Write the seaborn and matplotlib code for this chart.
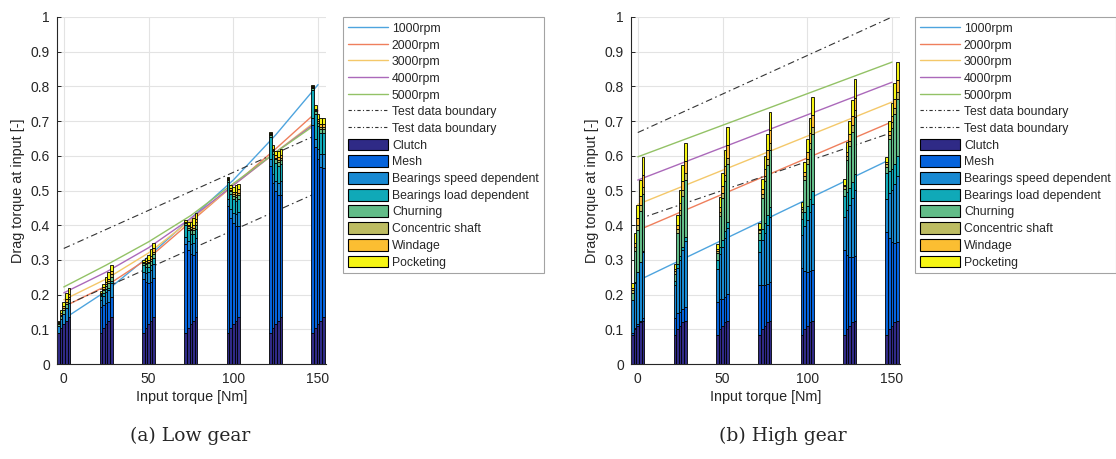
import numpy as np
import pandas as pd
import matplotlib
matplotlib.use("Agg")
import matplotlib.pyplot as plt
from matplotlib.lines import Line2D
from matplotlib.patches import Patch
import seaborn as sns

# ---------------- data ----------------
torques = [0, 25, 50, 75, 100, 125, 150]
rpms = ["1000rpm", "2000rpm", "3000rpm", "4000rpm", "5000rpm"]
components = ["Clutch", "Mesh", "Bearings speed dependent", "Bearings load dependent",
              "Churning", "Concentric shaft", "Windage", "Pocketing"]

# ----- (a) Low gear: per-rpm components (same at every torque) -----
lo_clutch = [0.090, 0.105, 0.115, 0.125, 0.135]
lo_bear_speed = [0.020, 0.025, 0.030, 0.035, 0.040]
lo_churning = [0.005, 0.008, 0.010, 0.012, 0.012]
lo_concentric = [0.003, 0.004, 0.005, 0.006, 0.006]
lo_windage = [0.002, 0.004, 0.006, 0.008, 0.010]
lo_pocketing = [0.005, 0.009, 0.014, 0.019, 0.017]
# torque dependent (rows: torque, cols: rpm)
lo_mesh = [[0.000, 0.000, 0.000, 0.000, 0.000],
           [0.075, 0.066, 0.062, 0.053, 0.057],
           [0.154, 0.132, 0.119, 0.110, 0.114],
           [0.255, 0.224, 0.202, 0.189, 0.189],
           [0.365, 0.317, 0.290, 0.273, 0.264],
           [0.480, 0.418, 0.383, 0.361, 0.352],
           [0.598, 0.519, 0.475, 0.444, 0.431]]
lo_bear_load = [[0.000, 0.000, 0.000, 0.000, 0.000],
                [0.010, 0.009, 0.008, 0.007, 0.008],
                [0.021, 0.018, 0.016, 0.015, 0.016],
                [0.035, 0.031, 0.028, 0.026, 0.026],
                [0.050, 0.043, 0.040, 0.037, 0.036],
                [0.065, 0.057, 0.052, 0.049, 0.048],
                [0.082, 0.071, 0.065, 0.061, 0.059]]
lo_line_x = [0, 25, 50, 75, 100, 125, 150]
lo_line_1000 = [0.130, 0.210, 0.310, 0.420, 0.530, 0.660, 0.805]
lo_line_2000 = [0.165, 0.225, 0.305, 0.410, 0.515, 0.620, 0.730]
lo_line_3000 = [0.185, 0.245, 0.320, 0.415, 0.515, 0.610, 0.705]
lo_line_4000 = [0.205, 0.265, 0.335, 0.420, 0.515, 0.610, 0.700]
lo_line_5000 = [0.222, 0.285, 0.352, 0.428, 0.520, 0.610, 0.695]
lo_bound_x = [0, 150]
lo_bound_upper = [0.333, 0.662]
lo_bound_lower = [0.167, 0.495]

# ----- (b) High gear -----
hi_clutch = [0.085, 0.100, 0.110, 0.120, 0.125]
hi_bear_speed = [0.095, 0.130, 0.150, 0.170, 0.190]
hi_churning = [0.020, 0.090, 0.120, 0.145, 0.165]
hi_concentric = [0.008, 0.012, 0.015, 0.018, 0.020]
hi_windage = [0.005, 0.013, 0.020, 0.027, 0.035]
hi_pocketing = [0.015, 0.028, 0.037, 0.045, 0.052]
hi_mesh = [[0.004, 0.004, 0.004, 0.004, 0.008],
           [0.048, 0.046, 0.040, 0.038, 0.040],
           [0.095, 0.086, 0.078, 0.074, 0.076],
           [0.142, 0.127, 0.117, 0.110, 0.110],
           [0.191, 0.167, 0.156, 0.148, 0.146],
           [0.243, 0.214, 0.198, 0.188, 0.186],
           [0.295, 0.262, 0.241, 0.228, 0.226]]
hi_bear_load = [[0.001, 0.001, 0.001, 0.001, 0.002],
                [0.012, 0.011, 0.010, 0.010, 0.010],
                [0.024, 0.021, 0.020, 0.018, 0.019],
                [0.035, 0.032, 0.029, 0.028, 0.028],
                [0.048, 0.042, 0.039, 0.037, 0.037],
                [0.061, 0.053, 0.050, 0.047, 0.047],
                [0.074, 0.065, 0.060, 0.057, 0.057]]
hi_line_x = [0, 150]
hi_line_1000 = [0.240, 0.592]
hi_line_2000 = [0.385, 0.698]
hi_line_3000 = [0.460, 0.755]
hi_line_4000 = [0.530, 0.812]
hi_line_5000 = [0.597, 0.870]
hi_bound_x = [0, 150]
hi_bound_upper = [0.667, 1.000]
hi_bound_lower = [0.417, 0.667]

# ---------------- style ----------------
line_colors = ["#4ea4de", "#ef7f5c", "#f4c86a", "#ab69ba", "#93c266"]
comp_colors = ["#2f2a86", "#0563dc", "#1889d2", "#10a9b8", "#62bc88",
               "#bdbc62", "#fbbe32", "#f6f514"]

sns.set_theme(style="whitegrid")
plt.rcParams["font.family"] = ["Liberation Sans", "DejaVu Sans"]

fig = plt.figure(figsize=(11.16, 4.59), dpi=100)
W, H = 1116, 459


def px_axes(l, t, r, b):
    return fig.add_axes([l / W, 1 - b / H, (r - l) / W, (b - t) / H])


def per_torque(vals):
    return np.array([vals for _ in torques])


def draw_panel(ax, comps, lines_x, lines, bx, bup, blo):
    # lines (behind bars)
    for ys, c in zip(lines, line_colors):
        sns.lineplot(x=lines_x, y=ys, ax=ax, color=c, lw=1.0, legend=False,
                     zorder=1, estimator=None)
    for ys in (bup, blo):
        ax.plot(bx, ys, color="#333333", lw=0.8, ls=(0, (6, 3, 1.5, 3)), zorder=1)
    # stacked grouped bars
    width = 1.55
    T = np.array(torques, dtype=float)
    for j in range(len(rpms)):
        xs = T + (j - 2) * width
        bottom = np.zeros(len(torques))
        for k, comp in enumerate(comps):
            h = np.asarray(comp)[:, j]
            ax.bar(xs, h, width=width, bottom=bottom, color=comp_colors[k],
                   edgecolor="black", linewidth=0.6, zorder=2)
            bottom = bottom + h
    ax.set_xlim(-4.0, 154.7)
    ax.set_ylim(0, 1)
    ax.set_xticks([0, 50, 100, 150])
    ax.set_yticks(np.round(np.arange(0, 1.01, 0.1), 1))
    ax.set_yticklabels(["0", "0.1", "0.2", "0.3", "0.4", "0.5", "0.6", "0.7",
                        "0.8", "0.9", "1"])
    ax.set_facecolor("white")
    ax.grid(True, color="#e3e3e3", lw=0.8, zorder=0)
    ax.set_axisbelow(True)
    for s in ("top", "right"):
        ax.spines[s].set_visible(False)
    for s in ("left", "bottom"):
        ax.spines[s].set_color("#262626")
        ax.spines[s].set_linewidth(0.8)
    ax.tick_params(direction="in", length=3, width=0.7, colors="#262626",
                   labelsize=10, pad=6, left=True, bottom=True)
    ax.tick_params(axis="y", pad=5)
    ax.set_xlabel("Input torque [Nm]", fontsize=10.4, color="#262626", labelpad=3)
    ax.set_ylabel("Drag torque at input [-]", fontsize=10.4, color="#262626",
                  labelpad=4)


def add_legend(x_px, y_px):
    handles = [Line2D([], [], color=c, lw=1.0) for c in line_colors]
    handles += [Line2D([], [], color="#333333", lw=0.8, ls=(0, (3, 2, 1, 2)))
                for _ in range(2)]
    handles += [Patch(facecolor=c, edgecolor="black", lw=0.8) for c in comp_colors]
    labels = rpms + ["Test data boundary", "Test data boundary"] + components
    leg = fig.legend(handles, labels, loc="upper left",
                     bbox_to_anchor=(x_px / W, 1 - y_px / H),
                     bbox_transform=fig.transFigure, frameon=True, fancybox=False,
                     fontsize=8.8, handlelength=3.3, handleheight=1.1,
                     handletextpad=0.3, labelspacing=0.3, borderpad=0.4,
                     borderaxespad=0)
    leg.get_frame().set_edgecolor("#8c8c8c")
    leg.get_frame().set_linewidth(0.8)
    for t in leg.get_texts():
        t.set_color("#262626")
    return leg


axL = px_axes(57, 17, 326, 364)
lo_comps = [per_torque(lo_clutch), np.array(lo_mesh), per_torque(lo_bear_speed),
            np.array(lo_bear_load), per_torque(lo_churning), per_torque(lo_concentric),
            per_torque(lo_windage), per_torque(lo_pocketing)]
draw_panel(axL, lo_comps, lo_line_x,
           [lo_line_1000, lo_line_2000, lo_line_3000, lo_line_4000, lo_line_5000],
           lo_bound_x, lo_bound_upper, lo_bound_lower)

axR = px_axes(631, 17, 900, 364)
hi_comps = [per_torque(hi_clutch), np.array(hi_mesh), per_torque(hi_bear_speed),
            np.array(hi_bear_load), per_torque(hi_churning), per_torque(hi_concentric),
            per_torque(hi_windage), per_torque(hi_pocketing)]
draw_panel(axR, hi_comps, hi_line_x,
           [hi_line_1000, hi_line_2000, hi_line_3000, hi_line_4000, hi_line_5000],
           hi_bound_x, hi_bound_upper, hi_bound_lower)

add_legend(343, 17)
add_legend(915, 17)

fig.text(190 / W, 1 - 436 / H, "(a) Low gear", ha="center", va="center",
         fontsize=13.5, family=["DejaVu Serif"])
fig.text(783 / W, 1 - 436 / H, "(b) High gear", ha="center", va="center",
         fontsize=13.5, family=["DejaVu Serif"])

fig.savefig("out.png", dpi=100, facecolor="white")
